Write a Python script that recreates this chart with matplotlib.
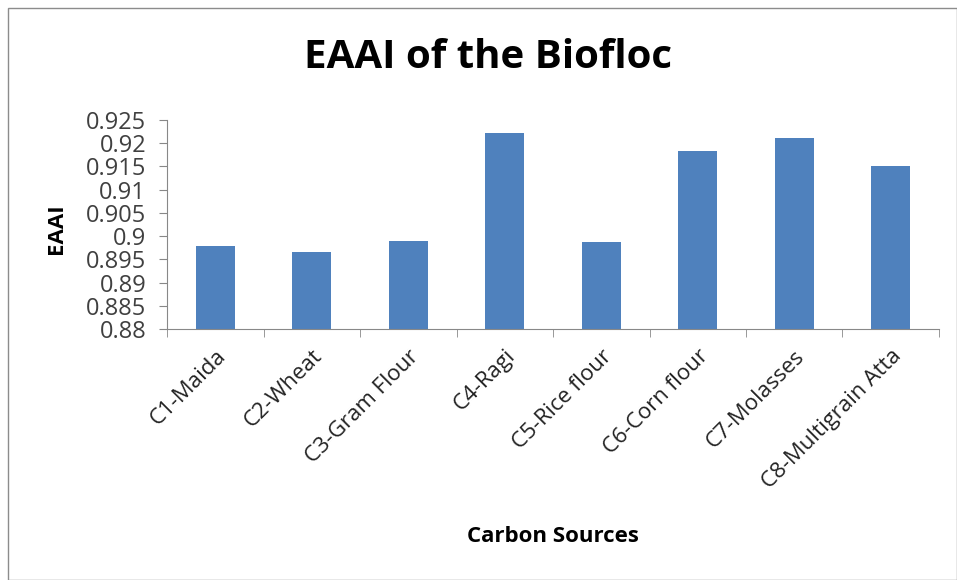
import matplotlib
matplotlib.use('Agg')
import matplotlib.pyplot as plt
import matplotlib.patches as mpatches
import matplotlib.transforms as mtransforms
import numpy as np

# chart data
categories = ['C1-Maida', 'C2-Wheat', 'C3-Gram Flour', 'C4-Ragi',
              'C5-Rice flour', 'C6-Corn flour', 'C7-Molasses', 'C8-Multigrain Atta']
eaai = [0.8979, 0.8966, 0.8990, 0.9221, 0.8987, 0.9184, 0.9212, 0.9150]
yticks = [0.88, 0.885, 0.89, 0.895, 0.9, 0.905, 0.91, 0.915, 0.92, 0.925]
ytick_labels = ['0.88', '0.885', '0.89', '0.895', '0.9', '0.905', '0.91', '0.915', '0.92', '0.925']

plt.rcParams['font.family'] = ['Open Sans', 'DejaVu Sans']
W, H = 957, 580
fig = plt.figure(figsize=(W / 100, H / 100), dpi=100)
ax = fig.add_axes([167 / W, 1 - 329 / H, (939 - 167) / W, (329 - 120) / H])

x = np.arange(len(categories))
ax.bar(x, eaai, width=0.4, color='#4f81bd', zorder=2)
ax.set_xlim(-0.5, len(categories) - 0.5)
ax.set_ylim(0.88, 0.925)

ax.set_yticks(yticks)
ax.set_yticklabels(ytick_labels, fontsize=17, color='#404040')
ax.set_xticks(x)
ax.set_xticklabels(categories, rotation=45, ha='right', rotation_mode='anchor',
                   fontsize=16, color='#222222')
# shift the rotated labels a little to the right, like Excel does
shift = mtransforms.ScaledTranslation(6 / 100, 0, fig.dpi_scale_trans)
for lbl in ax.get_xticklabels():
    lbl.set_transform(lbl.get_transform() + shift)
ax.tick_params(axis='x', length=0, pad=12)
ax.set_xticks(np.arange(len(categories) + 1) - 0.5, minor=True)
ax.tick_params(axis='x', which='minor', length=6, color='#888888', direction='out')
ax.tick_params(axis='y', length=6, color='#888888', direction='out', pad=9)

for s in ['top', 'right']:
    ax.spines[s].set_visible(False)
ax.spines['left'].set_color('#888888')
ax.spines['bottom'].set_color('#888888')

fig.text(488 / W, 1 - 58 / H, 'EAAI of the Biofloc', ha='center', va='center',
         fontsize=29, fontweight='bold', color='black')
fig.text(57 / W, 1 - 229 / H, 'EAAI', ha='center', va='center', rotation=90,
         fontsize=16, fontweight='bold', color='black')
fig.text(553 / W, 1 - 537 / H, 'Carbon Sources', ha='center', va='center',
         fontsize=16, fontweight='bold', color='black')

# outer chart border
fig.patches.append(mpatches.Rectangle((8 / W, 0), 1 - 8 / W, 1 - 8 / H,
                                      transform=fig.transFigure, fill=False,
                                      edgecolor='#8c8c8c', linewidth=1))

fig.savefig('out.png', dpi=100)
